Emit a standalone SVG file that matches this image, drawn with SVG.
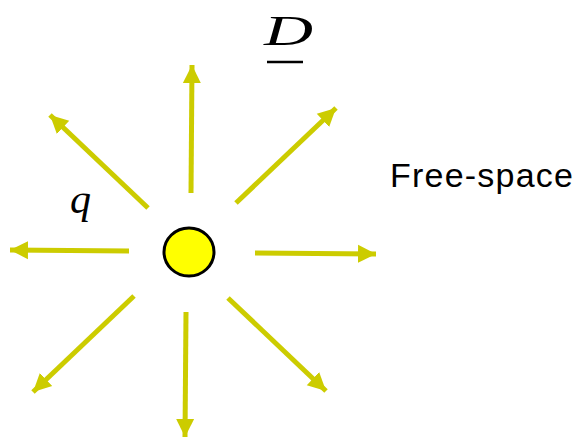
<svg xmlns="http://www.w3.org/2000/svg" width="578" height="438" viewBox="0 0 578 438">
<style>
.arr{stroke:#CCCC00;stroke-width:5;fill:none;marker-end:url(#ah)}
.lbl{font-family:"Liberation Serif",serif;font-style:italic}
</style>
<defs>
<marker id="ah" markerUnits="userSpaceOnUse" markerWidth="20" markerHeight="20" viewBox="0 0 20 20" refX="18" refY="10" orient="auto">
<path d="M0,1 L18,10 L0,19 Z" fill="#CCCC00"/>
</marker>
</defs>
<rect width="578" height="438" fill="#fff"/>
<g id="connectors">
<line class="arr" x1="191" y1="193" x2="192" y2="65"/>
<line class="arr" x1="236" y1="203" x2="336" y2="108"/>
<line class="arr" x1="255" y1="253" x2="376" y2="254"/>
<line class="arr" x1="228" y1="298" x2="326" y2="391"/>
<line class="arr" x1="186" y1="312" x2="185" y2="437"/>
<line class="arr" x1="134" y1="296" x2="33" y2="392"/>
<line class="arr" x1="129" y1="251" x2="10" y2="250"/>
<line class="arr" x1="148" y1="208" x2="50" y2="115"/>
</g>
<g id="charge">
<ellipse cx="189" cy="252" rx="25" ry="24" fill="#FFFF00" stroke="#000" stroke-width="3"/>
</g>
<g id="label-D">
<text class="lbl" x="264" y="45" font-size="42" textLength="49" lengthAdjust="spacingAndGlyphs">D</text>
<line x1="267" y1="62" x2="303" y2="62" stroke="#000" stroke-width="2.5"/>
</g>
<g id="label-q">
<text class="lbl" x="70" y="213" font-size="42">q</text>
</g>
<g id="label-free">
<text x="390" y="187" font-family="Liberation Sans,Arial,sans-serif" font-size="34" textLength="183">Free-space</text>
</g>
</svg>
